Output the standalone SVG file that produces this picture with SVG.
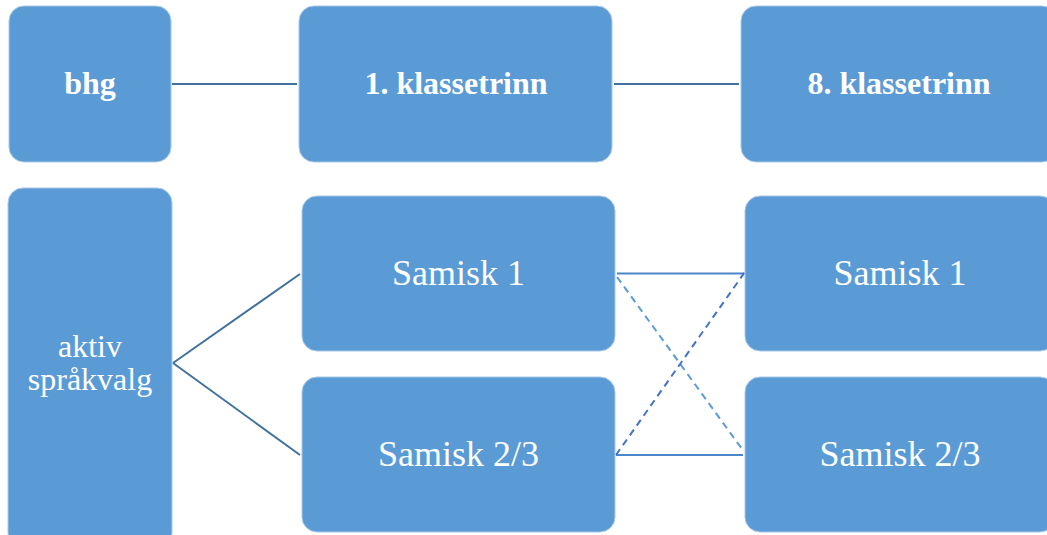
<svg xmlns="http://www.w3.org/2000/svg" width="1047" height="535" viewBox="0 0 1047 535">
<style>
.box{fill:#5B9BD5;stroke:#A9C8EA;stroke-width:1}
text{font-family:'Liberation Serif','Times New Roman',serif;fill:#fff;text-anchor:middle}
.tb{font-weight:bold;font-size:32px}
.tr{font-size:36px}
.ta{font-size:32px}
.c{stroke:#41719C;stroke-width:2;fill:none}
.c2{stroke:#4A86C8;stroke-width:2;fill:none}
.d1{stroke:#5B9BD5;stroke-width:2;stroke-dasharray:7,5;fill:none}
.d2{stroke:#4472C4;stroke-width:2;stroke-dasharray:7,5;fill:none}
</style>
<rect width="1047" height="535" fill="#fff"/>
<g id="connectors">
<line class="c" x1="172" y1="84" x2="297" y2="84"/>
<line class="c" x1="614" y1="84" x2="739" y2="84"/>
<line class="c" x1="173" y1="363" x2="300" y2="274"/>
<line class="c" x1="173" y1="363" x2="300" y2="455"/>
<line class="c2" x1="617" y1="273.5" x2="743" y2="273.5"/>
<line class="c2" x1="616" y1="455" x2="743" y2="455"/>
<line class="d1" x1="617" y1="277" x2="742" y2="449"/>
<line class="d2" x1="616" y1="455" x2="747" y2="269"/>
</g>
<g id="bhg"><rect class="box" x="9" y="6" width="162" height="156" rx="15"/><text class="tb" x="90" y="94">bhg</text></g>
<g id="klasse1"><rect class="box" x="299" y="6" width="313" height="156" rx="15"/><text class="tb" x="456" y="94">1. klassetrinn</text></g>
<g id="klasse8"><rect class="box" x="741" y="6" width="316" height="156" rx="15"/><text class="tb" x="899" y="94">8. klassetrinn</text></g>
<g id="aktiv"><rect class="box" x="8" y="188" width="164" height="360" rx="15"/><text class="ta" x="90" y="357">aktiv</text><text class="ta" x="90" y="390">språkvalg</text></g>
<g id="samisk1-left"><rect class="box" x="302" y="196" width="313" height="155" rx="15"/><text class="tr" x="458.5" y="285">Samisk 1</text></g>
<g id="samisk23-left"><rect class="box" x="302" y="377" width="313" height="155" rx="15"/><text class="tr" x="458.5" y="466">Samisk 2/3</text></g>
<g id="samisk1-right"><rect class="box" x="745" y="196" width="310" height="155" rx="15"/><text class="tr" x="900" y="285">Samisk 1</text></g>
<g id="samisk23-right"><rect class="box" x="745" y="377" width="310" height="155" rx="15"/><text class="tr" x="900" y="466">Samisk 2/3</text></g>
</svg>
